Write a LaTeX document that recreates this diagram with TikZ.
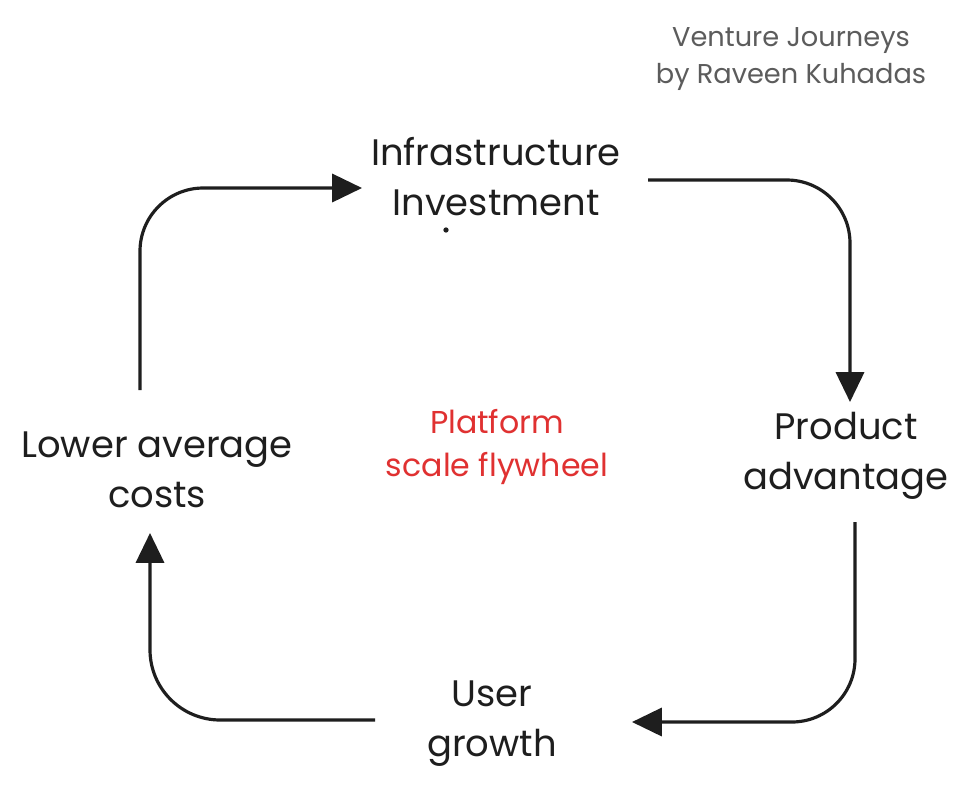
\documentclass[tikz,border=0pt]{standalone}
\usepackage{fontspec}
\setmainfont{Poppins}
\usetikzlibrary{arrows.meta}
\definecolor{ink}{HTML}{1E1E1E}
\definecolor{credit}{HTML}{5C5C5C}
\definecolor{accent}{HTML}{E03131}
\begin{document}
\begin{tikzpicture}[x=0.02cm,y=-0.02cm,
  label/.style={align=center,text=ink,font=\fontsize{21}{28.5}\selectfont,inner sep=0pt},
  flow/.style={draw=ink,line width=1.8pt,rounded corners=36pt,
    -{Triangle[length=17pt,width=16pt]}},
  note/.style={align=center,text=credit,font=\fontsize{15.5}{21.5}\selectfont,inner sep=0pt},
  hub/.style={align=center,text=accent,font=\fontsize{18}{24.5}\selectfont,inner sep=0pt}]
\useasboundingbox[fill=white] (0,0) rectangle (966,795);
\node[note] (credit) at (791,59) {Venture Journeys\\by Raveen Kuhadas};
\node[label] (infra) at (496,177) {Infrastructure\\Investment};
\node[label] (prod) at (846,456) {Product\\advantage};
\node[label] (user) at (492,724) {User\\growth};
\node[label] (lower) at (157,470) {Lower average\\costs};
\node[hub] (hub) at (497,447) {Platform\\scale flywheel};
\fill[ink] (446,230) circle (1.5pt);
% connector end points
\coordinate (a1s) at (140,390);
\coordinate (a1e) at (362,188);
\coordinate (a2s) at (648,180);
\coordinate (a2e) at (850,402);
\coordinate (a3s) at (855,522);
\coordinate (a3e) at (632,722);
\coordinate (a4s) at (375,720);
\coordinate (a4e) at (150,533);
\draw[flow] (a1s) -- (a1s |- a1e) -- (a1e);
\draw[flow] (a2s) -- (a2e |- a2s) -- (a2e);
\draw[flow] (a3s) -- (a3s |- a3e) -- (a3e);
\draw[flow,rounded corners=40pt] (a4s) -- (a4e |- a4s) -- (a4e);
\end{tikzpicture}
\end{document}
